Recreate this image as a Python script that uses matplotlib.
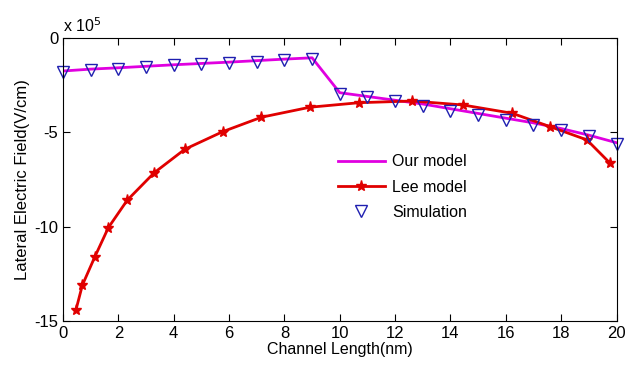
import matplotlib
matplotlib.use("Agg")
import matplotlib.pyplot as plt

plt.rcParams["font.family"] = ["Liberation Sans", "DejaVu Sans"]
plt.rcParams["axes.unicode_minus"] = False

# values in units of 1e5 V/cm
our_x = [0, 1, 2, 3, 4, 5, 6, 7, 8, 9, 10, 11, 12, 13, 14, 15, 16, 17, 18, 19, 20]
our_y = [-1.75, -1.65, -1.58, -1.5, -1.42, -1.35, -1.28, -1.2, -1.12, -1.05,
         -2.9, -3.1, -3.3, -3.5, -3.75, -4.0, -4.25, -4.5, -4.8, -5.15, -5.55]

sim_x = [0, 1, 2, 3, 4, 5, 6, 7, 8, 9, 10, 11, 12, 13, 14, 15, 16, 17, 18, 19, 20]
sim_y = [-1.8, -1.7, -1.62, -1.55, -1.45, -1.38, -1.32, -1.25, -1.17, -1.1,
         -2.95, -3.15, -3.35, -3.6, -3.85, -4.1, -4.35, -4.6, -4.9, -5.2, -5.6]

lee_x = [0.47, 0.70, 1.15, 1.64, 2.32, 3.29, 4.4, 5.78, 7.17, 8.92,
         10.7, 12.62, 14.45, 16.23, 17.6, 18.93, 19.77]
lee_y = [-14.4, -13.1, -11.6, -10.05, -8.6, -7.15, -5.9, -4.96, -4.2, -3.67,
         -3.43, -3.34, -3.55, -3.99, -4.7, -5.4, -6.64]

fig = plt.figure(figsize=(6.25, 3.71), dpi=100)
ax = fig.add_axes([0.1008, 0.1348, 0.8856, 0.7628])

ax.plot(our_x, our_y, color="#e000e0", linewidth=2, label="Our model")
ax.plot(lee_x, lee_y, color="#e00000", linewidth=2, marker="*", markersize=8,
        label="Lee model")
ax.plot(sim_x, sim_y, linestyle="none", marker="v", markersize=8,
        markerfacecolor="none", markeredgecolor="#1f1fb0", markeredgewidth=1,
        label="Simulation", clip_on=False)

ax.set_xlim(0, 20)
ax.set_ylim(-15, 0)
ax.set_xticks(range(0, 21, 2))
ax.set_yticks([-15, -10, -5, 0])
ax.tick_params(direction="in", length=5, top=True, right=True, labelsize=12)
ax.set_xlabel("Channel Length(nm)", fontsize=11.5, labelpad=1)
ax.set_ylabel("Lateral Electric Field(V/cm)", fontsize=12, labelpad=3)
fig.text(0.101, 0.915, r"x 10$^5$", fontsize=11.5)

ax.legend(loc="upper left", bbox_to_anchor=(0.47, 0.64), frameon=False,
          fontsize=11.5, handlelength=3.0, handletextpad=0.4, labelspacing=0.65)

fig.savefig("out.png", dpi=100)
